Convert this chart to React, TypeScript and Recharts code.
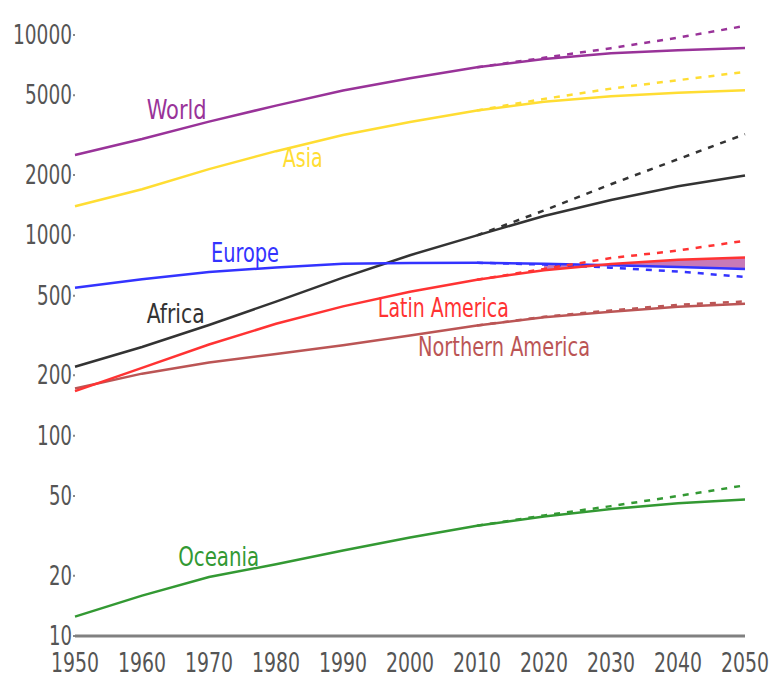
import React from "react";
import { Line, Area, XAxis, YAxis, ReferenceDot, ComposedChart } from "recharts";

// population in millions, estimates + medium variant (solid)
// and constant-fertility variant from 2010 (dashed)
const years = [1950, 1960, 1970, 1980, 1990, 2000, 2010, 2020, 2030, 2040, 2050];

const world = [2519, 3024, 3697, 4442, 5280, 6086, 6900, 7600, 8100, 8400, 8620];
const worldConst = [null, null, null, null, null, null, 6900, 7700, 8600, 9700, 11100];

const asia = [1396, 1699, 2142, 2632, 3168, 3680, 4200, 4650, 4950, 5150, 5300];
const asiaConst = [null, null, null, null, null, null, 4200, 4800, 5400, 5950, 6550];

const africa = [221, 277, 357, 467, 615, 796, 1000, 1250, 1500, 1760, 1990];
const africaConst = [null, null, null, null, null, null, 1000, 1330, 1800, 2400, 3200];

const europe = [547, 604, 656, 692, 721, 728, 730, 722, 710, 695, 680];
const europeConst = [null, null, null, null, null, null, 730, 715, 690, 660, 620];

const latinAmerica = [167, 218, 285, 362, 442, 523, 600, 670, 720, 755, 775];
const latinAmericaConst = [null, null, null, null, null, null, 600, 680, 770, 840, 940];

const northernAmerica = [172, 204, 232, 256, 283, 316, 355, 390, 415, 440, 455];
const northernAmericaConst = [null, null, null, null, null, null, 355, 392, 422, 450, 468];

const oceania = [12.5, 15.9, 19.7, 22.8, 26.7, 31.0, 35.5, 39.5, 43, 46, 48];
const oceaniaConst = [null, null, null, null, null, null, 35.5, 40, 44.5, 50, 56.5];

const yTicks = [10, 20, 50, 100, 200, 500, 1000, 2000, 5000, 10000];
const xTicks = years;

// region names and where they sit (year, value at text baseline)
const labelNames = ["World", "Asia", "Europe", "Africa", "Latin America", "Northern America", "Oceania"];
const labelYears = [1960.7, 1981, 1970.3, 1960.7, 1995.2, 2001.2, 1965.4];
const labelValues = [3800, 2190, 733, 367, 390, 250, 22.4];

const LABEL_STYLE: Record<string, { color: string; width: number }> = {
  World: { color: "#993399", width: 60 },
  Asia: { color: "#ffdd33", width: 40 },
  Europe: { color: "#3333ff", width: 68 },
  Africa: { color: "#333333", width: 58 },
  "Latin America": { color: "#ff3333", width: 131 },
  "Northern America": { color: "#bb5555", width: 172 },
  Oceania: { color: "#339933", width: 81 },
};

const data = years.map((year, i) => ({
  year,
  world: world[i],
  worldConst: worldConst[i],
  asia: asia[i],
  asiaConst: asiaConst[i],
  africa: africa[i],
  africaConst: africaConst[i],
  europe: europe[i],
  europeConst: europeConst[i],
  latinAmerica: latinAmerica[i],
  latinAmericaConst: latinAmericaConst[i],
  northernAmerica: northernAmerica[i],
  northernAmericaConst: northernAmericaConst[i],
  oceania: oceania[i],
  oceaniaConst: oceaniaConst[i],
  band: year >= 2020 ? [europe[i], latinAmerica[i]] : null,
}));

const FONT = "'DejaVu Sans Condensed', 'DejaVu Sans', sans-serif";

const YTick = (props: any) => {
  const { x, y, payload } = props;
  const s = String(payload.value);
  return (
    <text
      x={x}
      y={y + 9}
      textAnchor="end"
      fontFamily={FONT}
      fontSize={26}
      fill="#555"
      textLength={s.length * 12 - 1}
      lengthAdjust="spacingAndGlyphs"
    >
      {s}
    </text>
  );
};

const XTick = (props: any) => {
  const { x, y, payload } = props;
  const s = String(payload.value);
  return (
    <text
      x={x}
      y={y + 36}
      textAnchor="middle"
      fontFamily={FONT}
      fontSize={26}
      fill="#555"
      textLength={s.length * 12}
      lengthAdjust="spacingAndGlyphs"
    >
      {s}
    </text>
  );
};

const NoTick = () => <g />;

const lineStyle = (color: string, dashed = false) => ({
  stroke: color,
  strokeWidth: 2.5,
  strokeDasharray: dashed ? "6 7" : undefined,
  dot: false,
  isAnimationActive: false,
  type: "linear" as const,
});

export default function App() {
  return (
    <div style={{ position: "absolute", left: 0, top: 0, background: "#fff" }}>
      <ComposedChart
        width={773}
        height={675}
        data={data}
        margin={{ top: 15, right: 28, left: 0, bottom: 0 }}
      >
        <XAxis
          dataKey="year"
          type="number"
          domain={[1950, 2050]}
          ticks={xTicks}
          height={39}
          axisLine={{ stroke: "#808080", strokeWidth: 3 }}
          tickLine={false}
          tickSize={0}
          tickMargin={0}
          tick={<XTick />}
          interval={0}
        />
        <XAxis
          xAxisId="top"
          orientation="top"
          dataKey="year"
          type="number"
          domain={[1950, 2050]}
          ticks={xTicks}
          height={0}
          axisLine={false}
          tickLine={{ stroke: "#888", strokeWidth: 2 }}
          tickSize={2}
          tick={<NoTick />}
          interval={0}
        />
        <YAxis
          scale="log"
          domain={[10, 12589]}
          allowDataOverflow
          ticks={yTicks}
          width={75}
          axisLine={false}
          tickLine={{ stroke: "#888", strokeWidth: 2 }}
          tickSize={2}
          tickMargin={1}
          tick={<YTick />}
          interval={0}
        />
        <Area
          dataKey="band"
          fill="#c87ab8"
          fillOpacity={1}
          stroke="none"
          isAnimationActive={false}
        />
        <Line dataKey="northernAmerica" {...lineStyle("#bb5555")} />
        <Line dataKey="northernAmericaConst" {...lineStyle("#bb5555", true)} />
        <Line dataKey="oceania" {...lineStyle("#339933")} />
        <Line dataKey="oceaniaConst" {...lineStyle("#339933", true)} />
        <Line dataKey="africa" {...lineStyle("#333333")} />
        <Line dataKey="africaConst" {...lineStyle("#333333", true)} />
        <Line dataKey="europe" {...lineStyle("#3333ff")} />
        <Line dataKey="europeConst" {...lineStyle("#3333ff", true)} />
        <Line dataKey="latinAmerica" {...lineStyle("#ff3333")} />
        <Line dataKey="latinAmericaConst" {...lineStyle("#ff3333", true)} />
        <Line dataKey="asia" {...lineStyle("#ffdd33")} />
        <Line dataKey="asiaConst" {...lineStyle("#ffdd33", true)} />
        <Line dataKey="world" {...lineStyle("#993399")} />
        <Line dataKey="worldConst" {...lineStyle("#993399", true)} />
        {labelNames.map((name, i) => (
          <ReferenceDot
            key={name}
            x={labelYears[i]}
            y={labelValues[i]}
            r={0}
            ifOverflow="visible"
            shape={(p: any) => (
              <text
                x={p.cx}
                y={p.cy}
                fontFamily={FONT}
                fontSize={26}
                fill={LABEL_STYLE[name].color}
                textLength={LABEL_STYLE[name].width}
                lengthAdjust="spacingAndGlyphs"
              >
                {name}
              </text>
            )}
          />
        ))}
      </ComposedChart>
    </div>
  );
}
